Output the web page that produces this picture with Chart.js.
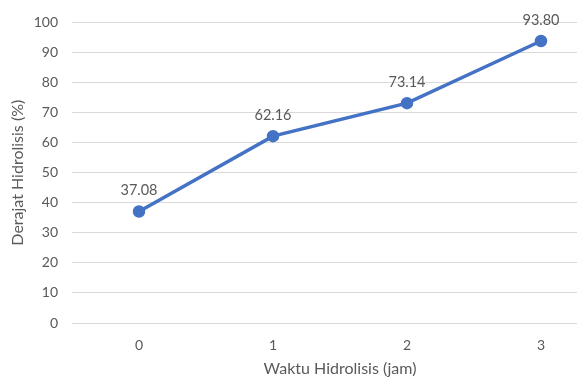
<!DOCTYPE html>
<html>
<head>
<meta charset="utf-8">
<script src="https://cdn.jsdelivr.net/npm/chart.js@4"></script>
<style>
  html, body { margin: 0; padding: 0; background: #fff; overflow: hidden; }
  #wrap { width: 616px; height: 378px; position: relative; }
</style>
</head>
<body>
<div id="wrap"><canvas id="c"></canvas></div>
<script>
// Hydrolysis time (hours) and degree of hydrolysis (%)
const categories = ['0', '1', '2', '3'];
const derajat = [37.08, 62.16, 73.14, 93.80];
const yTicks = [0, 10, 20, 30, 40, 50, 60, 70, 80, 90, 100];

const textColor = '#595959';
const fontFamily = 'Lato, "Open Sans", sans-serif';

// Writes each point's value above its marker
const valueLabels = {
  id: 'valueLabels',
  afterDatasetsDraw(chart) {
    const ctx = chart.ctx;
    const meta = chart.getDatasetMeta(0);
    ctx.save();
    ctx.font = '14.5px ' + fontFamily;
    ctx.fillStyle = textColor;
    ctx.textAlign = 'center';
    ctx.textBaseline = 'middle';
    meta.data.forEach((pt, i) => {
      ctx.fillText(derajat[i].toFixed(2), pt.x, pt.y - 21);
    });
    ctx.restore();
  }
};

new Chart(document.getElementById('c'), {
  type: 'line',
  data: {
    labels: categories,
    datasets: [{
      data: derajat,
      borderColor: '#4472C4',
      backgroundColor: '#4472C4',
      borderWidth: 3.5,
      pointRadius: 4.5,
      pointHoverRadius: 4.5,
      tension: 0
    }]
  },
  options: {
    responsive: true,
    maintainAspectRatio: false,
    animation: false,
    layout: { padding: { top: 22, right: 0, bottom: 0, left: 0 } },
    plugins: { legend: { display: false }, tooltip: { enabled: false } },
    scales: {
      x: {
        offset: true,
        grid: { display: false },
        border: { display: false },
        ticks: { color: textColor, font: { family: fontFamily, size: 14 }, padding: 6 },
        title: {
          display: true, text: 'Waktu Hidrolisis (jam)', color: textColor,
          font: { family: fontFamily, size: 16 }, padding: { top: 2, bottom: 0 }
        },
        afterFit(scale) { scale.height = 55; }
      },
      y: {
        min: 0, max: 100,
        afterBuildTicks(scale) { scale.ticks = yTicks.map(v => ({ value: v })); },
        grid: { color: '#d9d9d9', lineWidth: 1, drawTicks: false },
        border: { display: false },
        ticks: { color: textColor, font: { family: fontFamily, size: 14 }, padding: 14 },
        title: {
          display: true, text: 'Derajat Hidrolisis (%)', color: textColor,
          font: { family: fontFamily, size: 16 }, padding: { top: 8, bottom: 6 }
        },
        afterFit(scale) { scale.width = 72; }
      }
    }
  },
  plugins: [valueLabels]
});
</script>
</body>
</html>
